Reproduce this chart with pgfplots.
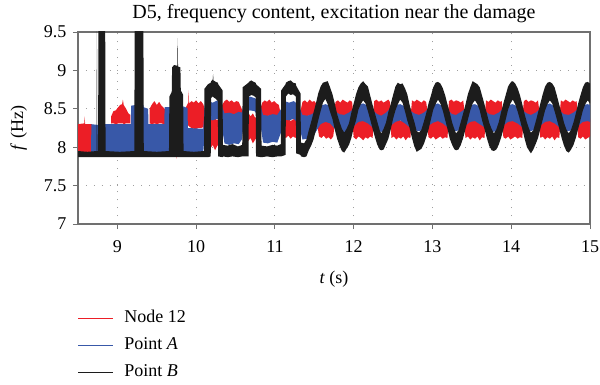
\documentclass[border=0pt]{standalone}
\usepackage{pgfplots}
\pgfplotsset{compat=1.18}
\usepackage{pgfplotstable}
\usepackage{fontspec}
\setmainfont{Liberation Serif}
\definecolor{nodered}{RGB}{236,30,38}
\definecolor{pablue}{RGB}{56,88,168}
\definecolor{pbblack}{RGB}{28,28,28}
\definecolor{framegray}{RGB}{112,112,112}

% Node 12 (red): t, lower edge, upper edge of the trace band
\pgfplotstableread{
t lo hi
8.50 7.93 8.30
8.58 7.93 8.31
8.585 7.93 8.40
8.59 7.93 8.30
8.675 7.93 8.30
8.68 7.91 7.91
8.915 7.91 7.91
8.92 8.31 8.40
8.95 8.31 8.47
8.98 8.30 8.48
9.01 8.31 8.52
9.035 8.31 8.55
9.06 8.31 8.56
9.07 8.31 8.62
9.08 8.30 8.55
9.11 8.31 8.50
9.14 8.31 8.44
9.165 8.31 8.42
9.17 7.91 7.91
9.405 7.91 7.91
9.41 8.31 8.50
9.44 8.30 8.56
9.47 8.31 8.60
9.50 8.30 8.55
9.53 8.31 8.59
9.56 8.31 8.54
9.59 8.30 8.51
9.615 8.31 8.48
9.62 7.91 7.91
9.745 7.91 7.91
9.75 7.85 7.95
9.755 7.91 7.91
9.865 7.91 7.91
9.87 8.30 8.52
9.90 8.28 8.58
9.905 8.28 8.74
9.91 8.27 8.57
9.94 8.25 8.60
9.97 8.24 8.58
10.00 8.24 8.61
10.03 8.25 8.57
10.06 8.25 8.60
10.09 8.26 8.56
10.12 8.05 8.45
10.15 8.02 8.38
10.18 7.98 8.36
10.21 8.03 8.40
10.24 7.96 8.37
10.27 8.02 8.35
10.30 8.05 8.42
10.33 8.30 8.55
10.36 8.38 8.60
10.39 8.40 8.62
10.42 8.37 8.59
10.45 8.42 8.61
10.48 8.36 8.58
10.51 8.40 8.60
10.54 8.38 8.59
10.57 8.30 8.52
10.60 8.15 8.45
10.63 8.10 8.42
10.66 8.08 8.46
10.69 8.12 8.40
10.72 8.05 8.44
10.75 8.10 8.38
10.78 8.14 8.42
10.81 8.22 8.48
10.84 8.38 8.58
10.87 8.41 8.61
10.90 8.39 8.59
10.93 8.42 8.62
10.96 8.40 8.58
10.99 8.38 8.60
11.02 8.36 8.57
11.05 8.33 8.55
11.08 8.18 8.40
11.11 8.14 8.36
11.14 8.12 8.35
11.17 8.15 8.37
11.20 8.11 8.34
11.23 8.14 8.36
11.26 8.12 8.38
11.29 8.17 8.40
11.32 8.25 8.45
11.35 8.38 8.59
11.38 8.41 8.61
11.41 8.40 8.58
11.44 8.42 8.62
11.47 8.39 8.59
11.50 8.40 8.60
11.53 8.35 8.56
11.56 8.14 8.37
11.59 8.12 8.35
11.62 8.15 8.38
11.65 8.11 8.34
11.68 8.13 8.36
11.71 8.10 8.35
11.74 8.14 8.37
11.77 8.39 8.59
11.80 8.41 8.61
11.83 8.38 8.58
11.86 8.40 8.62
11.89 8.42 8.60
11.92 8.39 8.58
11.95 8.41 8.61
11.98 8.38 8.59
12.00 8.13 8.37
12.03 8.10 8.35
12.06 8.14 8.38
12.09 8.12 8.34
12.12 8.09 8.36
12.15 8.13 8.37
12.18 8.11 8.35
12.21 8.14 8.38
12.24 8.12 8.36
12.26 8.40 8.60
12.29 8.38 8.62
12.32 8.41 8.59
12.35 8.39 8.61
12.38 8.42 8.58
12.41 8.38 8.60
12.44 8.40 8.62
12.46 8.39 8.59
12.48 8.12 8.36
12.51 8.14 8.38
12.54 8.10 8.35
12.57 8.13 8.37
12.60 8.11 8.34
12.63 8.14 8.36
12.66 8.09 8.38
12.69 8.13 8.35
12.72 8.12 8.37
12.74 8.39 8.61
12.77 8.41 8.59
12.80 8.38 8.62
12.83 8.40 8.60
12.86 8.42 8.58
12.89 8.39 8.61
12.92 8.40 8.59
12.95 8.13 8.37
12.98 8.11 8.35
13.01 8.14 8.38
13.04 8.10 8.36
13.07 8.12 8.34
13.10 8.14 8.37
13.13 8.11 8.35
13.16 8.13 8.38
13.19 8.12 8.36
13.21 8.40 8.60
13.24 8.38 8.62
13.27 8.41 8.59
13.30 8.39 8.61
13.33 8.42 8.60
13.36 8.38 8.58
13.39 8.40 8.61
13.42 8.12 8.36
13.45 8.14 8.38
13.48 8.10 8.35
13.51 8.13 8.37
13.54 8.11 8.34
13.57 8.14 8.36
13.60 8.09 8.38
13.63 8.13 8.35
13.66 8.12 8.37
13.68 8.39 8.61
13.71 8.41 8.59
13.74 8.38 8.62
13.77 8.40 8.60
13.80 8.42 8.58
13.83 8.39 8.61
13.86 8.40 8.59
13.88 8.38 8.60
13.90 8.13 8.37
13.93 8.11 8.35
13.96 8.14 8.38
13.99 8.10 8.36
14.02 8.12 8.34
14.05 8.14 8.37
14.08 8.11 8.35
14.11 8.13 8.38
14.14 8.12 8.36
14.16 8.40 8.60
14.19 8.38 8.62
14.22 8.41 8.59
14.25 8.39 8.61
14.28 8.42 8.60
14.31 8.38 8.58
14.34 8.40 8.61
14.37 8.12 8.36
14.40 8.14 8.38
14.43 8.10 8.35
14.46 8.13 8.37
14.49 8.11 8.34
14.52 8.14 8.36
14.55 8.09 8.38
14.58 8.13 8.35
14.61 8.12 8.37
14.63 8.39 8.61
14.66 8.41 8.59
14.69 8.38 8.62
14.72 8.40 8.60
14.75 8.42 8.58
14.78 8.39 8.61
14.81 8.40 8.59
14.83 8.38 8.60
14.85 8.13 8.37
14.88 8.11 8.35
14.91 8.14 8.38
14.94 8.10 8.36
14.97 8.12 8.34
15.00 8.14 8.37
}\reddata

% Point A (blue)
\pgfplotstableread{
t lo hi
8.50 7.91 7.91
8.665 7.91 7.91
8.67 7.93 8.30
8.75 7.93 8.29
8.85 7.93 8.30
8.95 7.93 8.30
9.05 7.93 8.30
9.17 7.93 8.30
9.175 7.93 8.54
9.23 7.93 8.55
9.33 7.93 8.55
9.335 7.93 8.52
9.39 7.93 8.50
9.395 7.93 8.30
9.50 7.93 8.30
9.595 7.93 8.30
9.60 7.93 8.52
9.84 7.93 8.53
9.89 7.93 8.51
9.895 7.93 8.25
10.09 7.93 8.24
10.11 8.20 8.55
10.15 8.36 8.60
10.21 8.35 8.58
10.27 8.37 8.61
10.32 8.30 8.55
10.36 8.05 8.44
10.42 8.03 8.45
10.48 8.05 8.43
10.54 8.04 8.46
10.58 8.10 8.45
10.62 8.45 8.62
10.68 8.48 8.66
10.74 8.47 8.64
10.80 8.40 8.60
10.85 8.06 8.42
10.91 8.05 8.41
10.97 8.07 8.43
11.03 8.06 8.42
11.08 8.20 8.50
11.12 8.36 8.60
11.18 8.35 8.58
11.24 8.37 8.60
11.30 8.30 8.55
11.35 8.10 8.42
11.41 8.11 8.41
11.47 8.12 8.43
11.52 8.20 8.47
11.58 8.30 8.54
11.64 8.33 8.56
11.70 8.31 8.54
11.76 8.24 8.47
11.82 8.17 8.43
11.88 8.16 8.42
11.94 8.20 8.45
12.00 8.27 8.50
12.06 8.33 8.55
12.12 8.34 8.57
12.18 8.31 8.54
12.24 8.26 8.48
12.30 8.21 8.43
12.35 8.20 8.41
12.41 8.22 8.45
12.47 8.28 8.51
12.53 8.33 8.55
12.59 8.35 8.56
12.65 8.31 8.53
12.71 8.26 8.48
12.77 8.22 8.44
12.83 8.21 8.42
12.89 8.23 8.45
12.95 8.28 8.50
13.01 8.32 8.55
13.07 8.34 8.57
13.13 8.31 8.53
13.19 8.26 8.49
13.25 8.22 8.43
13.30 8.21 8.42
13.36 8.23 8.46
13.42 8.28 8.50
13.48 8.33 8.55
13.54 8.34 8.56
13.60 8.30 8.53
13.66 8.26 8.48
13.72 8.22 8.43
13.78 8.20 8.42
13.84 8.23 8.45
13.90 8.28 8.51
13.96 8.33 8.55
14.02 8.34 8.56
14.08 8.31 8.53
14.14 8.26 8.48
14.20 8.22 8.44
14.25 8.21 8.42
14.31 8.23 8.45
14.37 8.28 8.50
14.43 8.33 8.55
14.49 8.34 8.57
14.55 8.31 8.53
14.61 8.26 8.48
14.67 8.22 8.43
14.73 8.21 8.42
14.79 8.23 8.45
14.85 8.28 8.50
14.91 8.33 8.55
14.97 8.34 8.56
15.00 8.33 8.55
}\bluedata

% Point B (black)
\pgfplotstableread{
t lo hi
8.50 7.87 7.95
8.62 7.87 7.94
8.735 7.87 7.95
8.74 7.87 9.70
8.745 7.87 7.95
8.755 7.87 7.95
8.76 7.87 9.70
8.845 7.87 9.70
8.85 7.87 7.95
9.03 7.87 7.94
9.215 7.87 7.95
9.22 7.87 9.70
9.33 7.87 9.70
9.335 7.87 7.95
9.50 7.87 7.94
9.655 7.87 7.95
9.66 7.87 8.66
9.69 7.87 8.72
9.695 7.87 9.04
9.72 7.87 9.07
9.76 7.87 9.06
9.765 7.87 9.42
9.77 7.87 9.05
9.80 7.87 9.04
9.805 7.87 8.74
9.835 7.87 8.68
9.84 7.87 7.95
9.97 7.87 7.94
10.10 7.87 7.95
10.105 7.87 8.76
10.15 7.87 8.82
10.185 7.88 8.84
10.19 8.64 8.86
10.21 8.66 8.88
10.215 8.66 8.95
10.22 8.65 8.87
10.25 8.63 8.85
10.275 8.60 8.84
10.28 7.88 8.82
10.335 7.87 8.74
10.34 7.88 8.03
10.40 7.87 8.02
10.46 7.88 8.04
10.53 7.87 8.01
10.585 7.88 8.03
10.59 7.88 8.78
10.665 7.88 8.84
10.67 8.66 8.85
10.70 8.68 8.87
10.73 8.67 8.85
10.755 8.65 8.84
10.76 7.88 8.82
10.825 7.87 8.76
10.83 7.87 8.02
10.90 7.88 8.01
10.97 7.87 8.03
11.03 7.88 8.02
11.075 7.88 8.04
11.08 7.88 8.74
11.135 7.90 8.82
11.14 8.66 8.84
11.17 8.70 8.86
11.20 8.68 8.87
11.23 8.69 8.84
11.265 8.66 8.83
11.27 7.92 8.80
11.325 7.90 8.70
11.33 7.88 8.06
11.37 7.87 8.05
11.40 7.88 8.10
11.43 7.96 8.22
11.46 8.02 8.33
11.49 8.10 8.45
11.52 8.22 8.57
11.55 8.35 8.70
11.58 8.47 8.79
11.61 8.58 8.84
11.64 8.63 8.85
11.67 8.56 8.86
11.70 8.46 8.78
11.73 8.37 8.69
11.76 8.23 8.57
11.79 8.11 8.43
11.82 8.02 8.33
11.85 7.95 8.24
11.88 7.93 8.19
11.91 7.98 8.24
11.94 8.03 8.31
11.97 8.12 8.45
12.00 8.25 8.57
12.03 8.35 8.69
12.06 8.49 8.78
12.09 8.56 8.83
12.12 8.61 8.86
12.15 8.57 8.82
12.18 8.47 8.79
12.21 8.36 8.67
12.24 8.24 8.55
12.27 8.13 8.44
12.30 8.03 8.33
12.33 7.97 8.22
12.35 7.96 8.18
12.38 7.97 8.24
12.41 8.04 8.32
12.44 8.11 8.46
12.47 8.23 8.56
12.50 8.37 8.68
12.53 8.48 8.79
12.56 8.56 8.84
12.59 8.62 8.82
12.62 8.58 8.83
12.65 8.47 8.77
12.68 8.35 8.69
12.71 8.25 8.55
12.74 8.12 8.43
12.77 8.01 8.33
12.80 7.94 8.21
12.83 7.96 8.19
12.86 7.98 8.23
12.89 8.04 8.33
12.92 8.13 8.44
12.95 8.23 8.57
12.98 8.36 8.67
13.01 8.49 8.78
13.04 8.56 8.84
13.07 8.62 8.85
13.10 8.57 8.83
13.13 8.48 8.77
13.16 8.36 8.68
13.19 8.24 8.56
13.22 8.11 8.45
13.25 8.03 8.32
13.28 7.97 8.23
13.30 7.96 8.18
13.33 7.97 8.22
13.36 8.03 8.33
13.39 8.12 8.44
13.42 8.24 8.56
13.45 8.36 8.69
13.48 8.48 8.78
13.51 8.57 8.86
13.54 8.61 8.84
13.57 8.56 8.82
13.60 8.48 8.78
13.63 8.35 8.67
13.66 8.24 8.56
13.69 8.12 8.44
13.72 8.02 8.32
13.75 7.96 8.24
13.78 7.95 8.18
13.81 7.97 8.23
13.84 8.03 8.32
13.87 8.12 8.45
13.90 8.23 8.57
13.93 8.36 8.68
13.96 8.49 8.79
13.99 8.57 8.84
14.02 8.62 8.86
14.05 8.56 8.83
14.08 8.47 8.77
14.11 8.36 8.68
14.14 8.24 8.56
14.17 8.11 8.43
14.20 8.00 8.32
14.23 7.95 8.23
14.25 7.92 8.19
14.28 7.97 8.22
14.31 8.04 8.33
14.34 8.12 8.45
14.37 8.24 8.57
14.40 8.36 8.69
14.43 8.48 8.79
14.46 8.56 8.84
14.49 8.61 8.85
14.52 8.57 8.83
14.55 8.47 8.78
14.58 8.36 8.67
14.61 8.24 8.55
14.64 8.12 8.44
14.67 8.02 8.32
14.70 7.95 8.23
14.73 7.93 8.18
14.76 7.97 8.23
14.79 8.03 8.32
14.82 8.12 8.44
14.85 8.24 8.57
14.88 8.36 8.68
14.91 8.48 8.78
14.94 8.56 8.84
14.97 8.61 8.85
15.00 8.57 8.83
}\blackdata

\pgfplotsset{
  frame/.style={at={(0pt,0pt)}, anchor=south west,
    scale only axis, width=512pt, height=192pt,
    xmin=8.5, xmax=15, ymin=7, ymax=9.5},
  layer/.style={frame, hide axis},
}

\begin{document}
\begin{tikzpicture}
\path[use as bounding box] (-78pt,-161pt) rectangle (522pt,224pt);
% decorations, grid and legend
\begin{axis}[
  frame,
  xtick={9,10,11,12,13,14,15},
  ytick={7,7.5,8,8.5,9,9.5},
  xtick pos=left, ytick pos=left,
  tick align=outside, major tick length=5pt,
  tick style={framegray, line width=1pt},
  axis line style={framegray, line width=1.2pt},
  grid=major,
  major grid style={gray!75, line width=0.9pt, dash pattern=on 0.9pt off 7pt},
  /pgf/number format/assume math mode=true,
  ticklabel style={font=\fontsize{18}{18}\selectfont},
  yticklabel style={xshift=-3pt},
  xticklabel style={yshift=-8pt},
  title={D5, frequency content, excitation near the damage},
  title style={at={(axis description cs:0.5,1.016)}, anchor=south, inner sep=0pt, font=\fontsize{20}{20}\selectfont},
  xlabel={\textit{t} (s)},
  xlabel style={at={(axis description cs:0.5,-0.3073)}, anchor=base, inner sep=0pt, font=\fontsize{18}{18}\selectfont},
  ylabel={\textit{f} (Hz)},
  ylabel style={at={(axis description cs:-0.1074,0.5)}, anchor=base, inner sep=0pt, font=\fontsize{18}{18}\selectfont},
  legend style={at={(axis description cs:0,0)}, anchor=north west, yshift=-86pt, xshift=-1pt,
    draw=none, fill=none, inner sep=0pt, row sep=10.5pt, column sep=0pt,
    font=\fontsize{18}{18}\selectfont,
    nodes={inner sep=0pt, text height=12.5pt, text depth=4pt}},
  legend cell align=left,
  legend image code/.code={\draw[#1, line width=1.9pt] (0pt,0pt) -- (35pt,0pt); \path (46pt,0pt);},
]
\addlegendimage{nodered}
\addlegendentry{Node 12}
\addlegendimage{pablue}
\addlegendentry{Point \textit{A}}
\addlegendimage{pbblack}
\addlegendentry{Point \textit{B}}
\end{axis}
% Node 12
\begin{axis}[layer]
\addplot[draw=none, stack plots=y] table[x=t, y=lo]{\reddata};
\addplot[fill=nodered, draw=none, stack plots=y] table[x=t, y expr=\thisrow{hi}-\thisrow{lo}]{\reddata} \closedcycle;
\end{axis}
% Point A
\begin{axis}[layer]
\addplot[draw=none, stack plots=y] table[x=t, y=lo]{\bluedata};
\addplot[fill=pablue, draw=none, stack plots=y] table[x=t, y expr=\thisrow{hi}-\thisrow{lo}]{\bluedata} \closedcycle;
\end{axis}
% Point B
\begin{axis}[layer]
\addplot[draw=none, stack plots=y] table[x=t, y=lo]{\blackdata};
\addplot[fill=pbblack, draw=none, stack plots=y] table[x=t, y expr=\thisrow{hi}-\thisrow{lo}]{\blackdata} \closedcycle;
\end{axis}
\end{tikzpicture}
\end{document}
